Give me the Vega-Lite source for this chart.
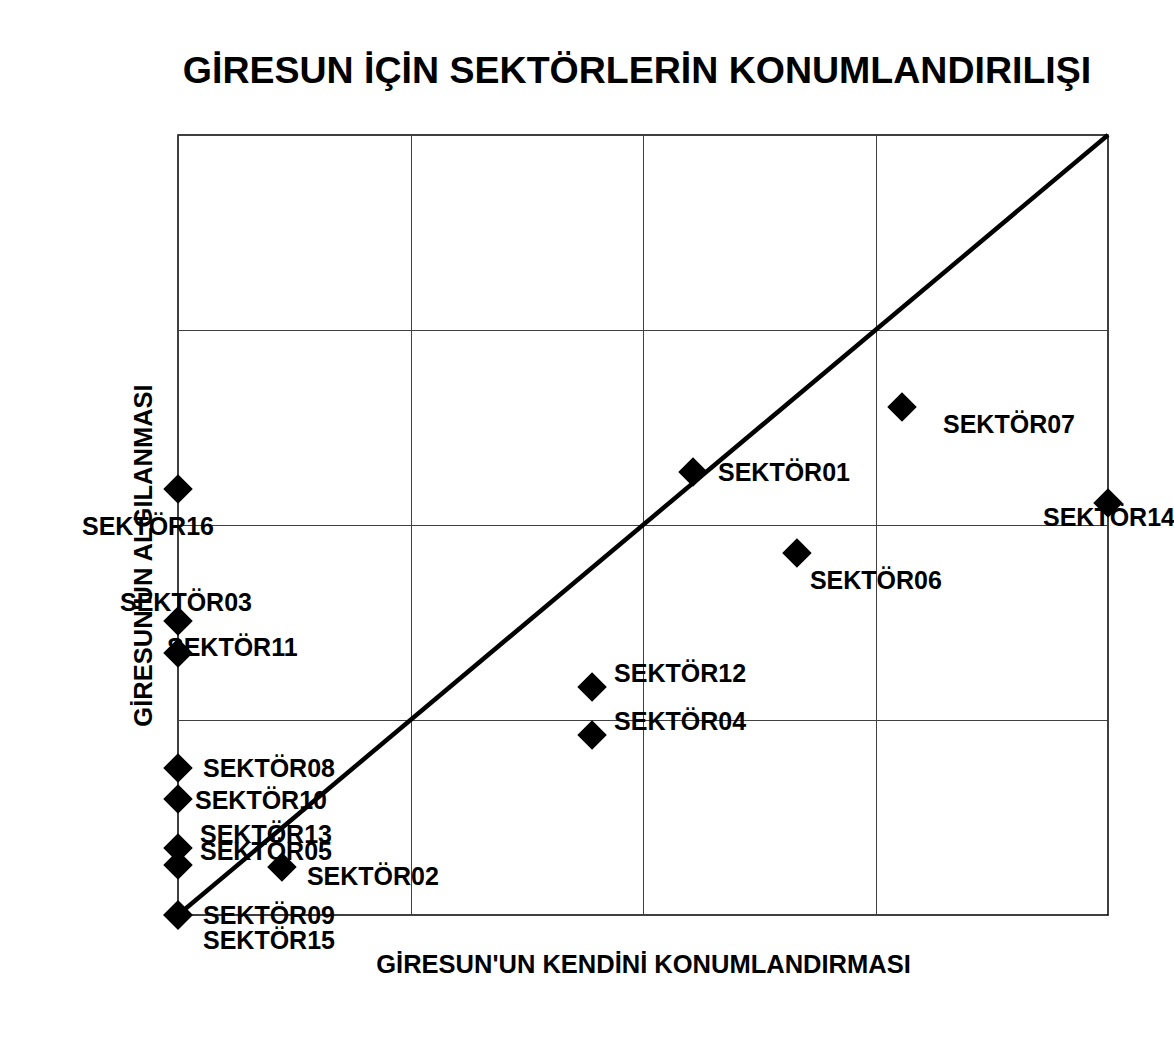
{
  "$schema": "https://vega.github.io/schema/vega-lite/v6.json",
  "width": 930,
  "height": 780,
  "autosize": {"type": "none"},
  "padding": {"left": 178, "top": 135, "right": 66, "bottom": 149},
  "background": "white",
  "title": {
    "text": "GİRESUN İÇİN SEKTÖRLERİN KONUMLANDIRILIŞI",
    "font": "Liberation Sans",
    "fontSize": 37.5,
    "fontWeight": "bold",
    "color": "black",
    "anchor": "middle",
    "baseline": "alphabetic",
    "dx": -6,
    "offset": 6
  },
  "datasets": {
    "points": [
      {"name": "SEKTÖR01", "x": 2.215, "y": 2.272},
      {"name": "SEKTÖR02", "x": 0.447, "y": 0.246},
      {"name": "SEKTÖR03", "x": 0, "y": 1.508},
      {"name": "SEKTÖR04", "x": 1.781, "y": 0.923},
      {"name": "SEKTÖR05", "x": 0, "y": 0.256},
      {"name": "SEKTÖR06", "x": 2.662, "y": 1.856},
      {"name": "SEKTÖR07", "x": 3.114, "y": 2.605},
      {"name": "SEKTÖR08", "x": 0, "y": 0.754},
      {"name": "SEKTÖR09", "x": 0, "y": 0},
      {"name": "SEKTÖR10", "x": 0, "y": 0.595},
      {"name": "SEKTÖR11", "x": 0, "y": 1.344},
      {"name": "SEKTÖR12", "x": 1.781, "y": 1.169},
      {"name": "SEKTÖR13", "x": 0, "y": 0.344},
      {"name": "SEKTÖR14", "x": 4.0, "y": 2.113},
      {"name": "SEKTÖR15", "x": 0, "y": 0},
      {"name": "SEKTÖR16", "x": 0, "y": 2.185}
    ],
    "diagonal": [
      {"x": 0, "y": 0},
      {"x": 4, "y": 4}
    ]
  },
  "data": {"name": "points"},
  "layer": [
    {
      "data": {"name": "diagonal"},
      "mark": {"type": "line", "color": "black", "strokeWidth": 4.5, "clip": false},
      "encoding": {
        "x": {"field": "x", "type": "quantitative", "scale": {"domain": [0, 4], "nice": false}, "axis": {"values": [0, 1, 2, 3, 4], "grid": true, "labels": false, "ticks": false, "domain": false, "title": "GİRESUN'UN KENDİNİ KONUMLANDIRMASI", "titlePadding": 37}},
        "y": {"field": "y", "type": "quantitative", "scale": {"domain": [0, 4], "nice": false}, "axis": {"values": [0, 1, 2, 3, 4], "grid": true, "labels": false, "ticks": false, "domain": false, "title": "GİRESUN'UN ALGILANMASI", "titlePadding": 22, "titleY": 420}}
      }
    },
    {
      "mark": {"type": "point", "shape": "diamond", "filled": true, "color": "black", "size": 870, "opacity": 1, "clip": false},
      "encoding": {
        "x": {"field": "x", "type": "quantitative"},
        "y": {"field": "y", "type": "quantitative"}
      }
    },
    {
      "transform": [{"filter": {"field": "name", "oneOf": ["SEKTÖR01", "SEKTÖR08", "SEKTÖR09"]}}],
      "mark": {"type": "text", "font": "Liberation Sans", "fontSize": 25, "fontWeight": "bold", "color": "black", "align": "left", "baseline": "middle", "dx": 25, "dy": 1},
      "encoding": {"x": {"field": "x", "type": "quantitative"}, "y": {"field": "y", "type": "quantitative"}, "text": {"field": "name"}}
    },
    {
      "transform": [{"filter": {"field": "name", "oneOf": ["SEKTÖR12", "SEKTÖR04", "SEKTÖR13", "SEKTÖR05"]}}],
      "mark": {"type": "text", "font": "Liberation Sans", "fontSize": 25, "fontWeight": "bold", "color": "black", "align": "left", "baseline": "middle", "dx": 22, "dy": -13},
      "encoding": {"x": {"field": "x", "type": "quantitative"}, "y": {"field": "y", "type": "quantitative"}, "text": {"field": "name"}}
    },
    {
      "transform": [{"filter": {"field": "name", "equal": "SEKTÖR10"}}],
      "mark": {"type": "text", "font": "Liberation Sans", "fontSize": 25, "fontWeight": "bold", "color": "black", "align": "left", "baseline": "middle", "dx": 17, "dy": 2},
      "encoding": {"x": {"field": "x", "type": "quantitative"}, "y": {"field": "y", "type": "quantitative"}, "text": {"field": "name"}}
    },
    {
      "transform": [{"filter": {"field": "name", "equal": "SEKTÖR15"}}],
      "mark": {"type": "text", "font": "Liberation Sans", "fontSize": 25, "fontWeight": "bold", "color": "black", "align": "left", "baseline": "middle", "dx": 25, "dy": 26},
      "encoding": {"x": {"field": "x", "type": "quantitative"}, "y": {"field": "y", "type": "quantitative"}, "text": {"field": "name"}}
    },
    {
      "transform": [{"filter": {"field": "name", "equal": "SEKTÖR02"}}],
      "mark": {"type": "text", "font": "Liberation Sans", "fontSize": 25, "fontWeight": "bold", "color": "black", "align": "left", "baseline": "middle", "dx": 25, "dy": 10},
      "encoding": {"x": {"field": "x", "type": "quantitative"}, "y": {"field": "y", "type": "quantitative"}, "text": {"field": "name"}}
    },
    {
      "transform": [{"filter": {"field": "name", "equal": "SEKTÖR07"}}],
      "mark": {"type": "text", "font": "Liberation Sans", "fontSize": 25, "fontWeight": "bold", "color": "black", "align": "left", "baseline": "middle", "dx": 41, "dy": 18},
      "encoding": {"x": {"field": "x", "type": "quantitative"}, "y": {"field": "y", "type": "quantitative"}, "text": {"field": "name"}}
    },
    {
      "transform": [{"filter": {"field": "name", "equal": "SEKTÖR06"}}],
      "mark": {"type": "text", "font": "Liberation Sans", "fontSize": 25, "fontWeight": "bold", "color": "black", "align": "left", "baseline": "middle", "dx": 13, "dy": 28},
      "encoding": {"x": {"field": "x", "type": "quantitative"}, "y": {"field": "y", "type": "quantitative"}, "text": {"field": "name"}}
    },
    {
      "transform": [{"filter": {"field": "name", "equal": "SEKTÖR14"}}],
      "mark": {"type": "text", "font": "Liberation Sans", "fontSize": 25, "fontWeight": "bold", "color": "black", "align": "left", "baseline": "middle", "dx": -65, "dy": 15},
      "encoding": {"x": {"field": "x", "type": "quantitative"}, "y": {"field": "y", "type": "quantitative"}, "text": {"field": "name"}}
    },
    {
      "transform": [{"filter": {"field": "name", "equal": "SEKTÖR16"}}],
      "mark": {"type": "text", "font": "Liberation Sans", "fontSize": 25, "fontWeight": "bold", "color": "black", "align": "left", "baseline": "middle", "dx": -96, "dy": 38},
      "encoding": {"x": {"field": "x", "type": "quantitative"}, "y": {"field": "y", "type": "quantitative"}, "text": {"field": "name"}}
    },
    {
      "transform": [{"filter": {"field": "name", "equal": "SEKTÖR03"}}],
      "mark": {"type": "text", "font": "Liberation Sans", "fontSize": 25, "fontWeight": "bold", "color": "black", "align": "left", "baseline": "middle", "dx": -58, "dy": -18},
      "encoding": {"x": {"field": "x", "type": "quantitative"}, "y": {"field": "y", "type": "quantitative"}, "text": {"field": "name"}}
    },
    {
      "transform": [{"filter": {"field": "name", "equal": "SEKTÖR11"}}],
      "mark": {"type": "text", "font": "Liberation Sans", "fontSize": 25, "fontWeight": "bold", "color": "black", "align": "left", "baseline": "middle", "dx": -11, "dy": -5},
      "encoding": {"x": {"field": "x", "type": "quantitative"}, "y": {"field": "y", "type": "quantitative"}, "text": {"field": "name"}}
    }
  ],
  "config": {
    "view": {"stroke": "black", "strokeWidth": 1.5},
    "axis": {
      "gridColor": "#404040",
      "gridWidth": 1,
      "gridOpacity": 1,
      "titleFont": "Liberation Sans",
      "titleFontSize": 25.5,
      "titleFontWeight": "bold",
      "titleColor": "black"
    }
  }
}
